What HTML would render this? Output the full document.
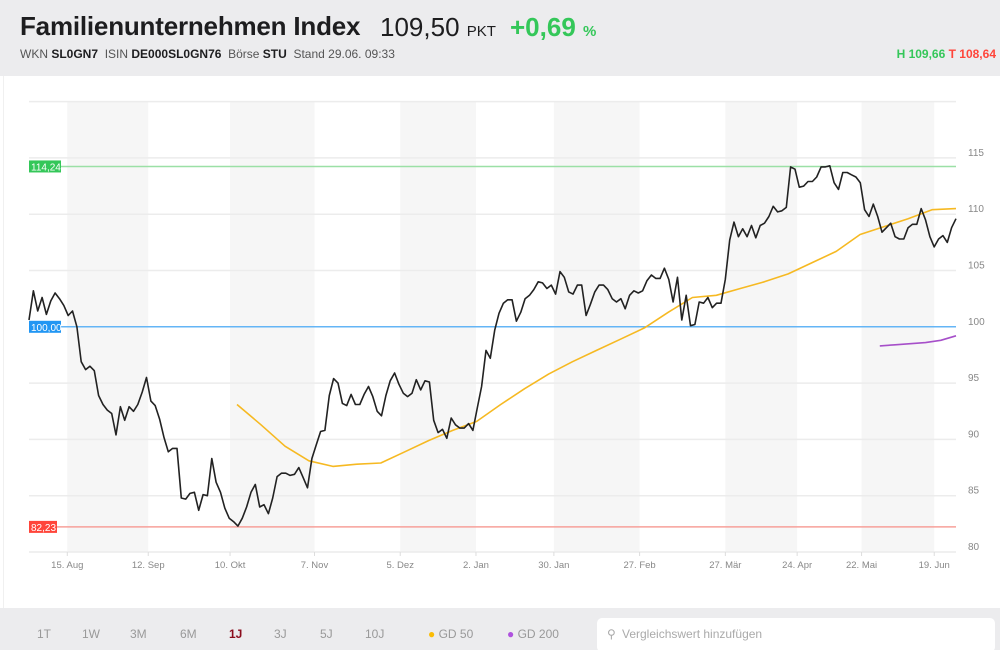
<!DOCTYPE html>
<html><head><meta charset="utf-8">
<style>
body{margin:0;width:1000px;height:650px;overflow:hidden;background:#fff;font-family:"Liberation Sans",sans-serif;}
#hdr{position:absolute;left:0;top:0;width:1000px;height:76px;background:#ececee;}
#title{position:absolute;left:20px;top:11px;font-size:26px;font-weight:bold;color:#1d1d1f;letter-spacing:-0.2px;white-space:nowrap}
#price{position:absolute;left:380px;top:12px;font-size:26px;color:#1d1d1f;white-space:nowrap}
#price small{font-size:15px}
#chg{position:absolute;left:510px;top:12px;font-size:26px;font-weight:bold;color:#34c759;white-space:nowrap}
#chg small{font-size:15px}
#meta{position:absolute;left:20px;top:47px;font-size:12px;color:#555;white-space:nowrap}
#meta b{color:#1d1d1f}
#ht{position:absolute;right:4px;top:47px;font-size:12px;font-weight:bold;white-space:nowrap}
#bar{position:absolute;left:0;top:608px;width:1000px;height:42px;background:#ececee;}
.rng{position:absolute;top:19px;font-size:12px;color:#999}
#search{position:absolute;left:597px;top:10px;width:398px;height:34px;background:#fff;border-radius:5px;font-size:12px;color:#aaa}
</style></head><body>
<div id="hdr">
<div id="title">Familienunternehmen Index</div>
<div id="price">109,50 <small>PKT</small></div>
<div id="chg">+0,69 <small>%</small></div>
<div id="meta">WKN <b>SL0GN7</b> &nbsp;ISIN <b>DE000SL0GN76</b> &nbsp;Börse <b>STU</b> &nbsp;Stand 29.06. 09:33</div>
<div id="ht"><span style="color:#34c759">H 109,66</span> <span style="color:#ff453a">T 108,64</span></div>
</div>
<svg id="chart" width="1000" height="532" style="position:absolute;left:0;top:76px"></svg>
<div id="bar">
<span class="rng" style="left:37px">1T</span>
<span class="rng" style="left:82px">1W</span>
<span class="rng" style="left:130px">3M</span>
<span class="rng" style="left:180px">6M</span>
<span class="rng" style="left:229px;color:#8b0d1d;font-weight:bold">1J</span>
<span class="rng" style="left:274px">3J</span>
<span class="rng" style="left:320px">5J</span>
<span class="rng" style="left:365px">10J</span>
<span class="rng" style="left:428px"><span style="color:#fbbc05">●</span> GD 50</span>
<span class="rng" style="left:507px"><span style="color:#af52de">●</span> GD 200</span>
<div id="search"><span style="position:absolute;left:10px;top:9px">⚲</span><span style="position:absolute;left:25px;top:9px">Vergleichswert hinzufügen</span></div>
</div>
<script>
const prices=[100.6,103.2,101.4,102.6,101.1,102.3,103.0,102.5,101.9,101.0,101.4,100.0,96.9,96.2,96.5,96.1,93.9,93.1,92.6,92.3,90.4,92.9,91.7,92.9,92.5,93.1,94.2,95.5,93.4,93.0,91.8,90.2,88.9,89.2,89.2,84.8,84.7,85.2,85.3,83.7,85.1,85.0,88.3,86.2,85.3,83.9,83.0,82.7,82.3,83.0,84.0,85.3,86.0,84.0,84.2,83.4,84.8,86.7,87.0,87.0,86.8,86.9,87.5,86.6,85.7,88.3,89.5,90.7,90.8,93.9,95.4,95.0,93.2,93.0,94.0,93.1,93.1,94.0,94.7,93.8,92.5,92.1,93.9,95.2,95.9,94.9,94.1,93.8,94.1,95.3,94.4,95.2,95.1,91.7,90.6,90.9,90.1,91.9,91.3,91.0,91.0,91.4,90.8,92.8,94.7,97.9,97.2,99.7,101.2,102.1,102.4,102.4,100.5,101.3,102.5,102.8,103.3,104.0,103.9,103.4,103.7,102.9,104.9,104.4,103.1,102.9,103.7,103.7,101.0,102.0,103.1,103.7,103.7,103.3,102.5,102.2,102.5,101.6,102.8,103.2,103.0,103.2,104.1,104.6,104.3,104.3,105.2,104.2,102.2,104.4,100.6,102.8,100.1,100.2,102.2,102.1,102.6,101.7,102.1,102.1,104.2,107.7,109.3,108.0,108.7,108.0,109.0,107.9,109.0,109.2,109.8,110.7,110.2,110.3,110.6,114.2,114.0,112.4,112.5,112.9,112.9,113.3,114.2,114.2,114.3,112.8,112.2,113.7,113.7,113.5,113.3,112.8,110.4,109.8,110.9,109.8,108.4,108.8,109.2,108.0,107.8,107.8,108.8,109.1,109.1,110.5,109.5,108.0,107.1,107.8,108.1,107.5,108.8,109.6];
const gd50=[93.1,91.3,89.4,88.1,87.6,87.8,87.9,88.9,89.9,90.8,91.6,93.1,94.5,95.8,96.9,97.9,98.9,99.9,101.3,102.6,102.8,103.4,104.0,104.7,105.7,106.7,108.2,108.9,109.6,110.4,110.5];
const gd50StartIdx=47.8;
const gd200=[98.3,98.4,98.5,98.6,98.8,99.2];
const gd200StartIdx=195.5;
const yTicks=[80,85,90,95,100,105,110,115,120];
const dateLabels=["15. Aug","12. Sep","10. Okt","7. Nov","5. Dez","2. Jan","30. Jan","27. Feb","27. Mär","24. Apr","22. Mai","19. Jun"];
const dateIdx=[8.8,27.4,46.2,65.6,85.3,102.7,120.6,140.3,160,176.5,191.3,208];
const refLines=[{v:114.24,c:"#34c759",l:"#9be0a6",t:"114,24"},{v:100,c:"#2196f3",l:"#64b5f6",t:"100,00"},{v:82.23,c:"#ff453a",l:"#f7a09a",t:"82,23"}];
const svg=document.getElementById('chart');const NS="http://www.w3.org/2000/svg";
const OY=76,X0=29,X1=956,N=prices.length;
function x(i){return X0+(X1-X0)*i/(N-1);}
function y(v){return 552-OY-(v-80)*11.26;}
function mk(t,a,p){const e=document.createElementNS(NS,t);for(const k in a)e.setAttribute(k,a[k]);(p||svg).appendChild(e);return e;}
let band=mk('rect',{x:3,y:0,width:1,height:532,fill:'#f0f0f0'});

for(let k=0;k<dateIdx.length;k+=2){const xa=x(dateIdx[k]),xb=k+1<dateIdx.length?x(dateIdx[k+1]):X1;
 const r=mk('rect',{x:xa,y:y(120),width:xb-xa,height:y(80)-y(120),fill:'#f6f6f6'});
 }
yTicks.forEach(v=>{const g=mk('line',{x1:X0,x2:X1,y1:y(v),y2:y(v),stroke:'#ececec','stroke-width':1.5});
 
 if(v<120){const t=mk('text',{x:968,y:y(v)-2,'font-size':10,fill:'#888'});t.textContent=v;
 }});
dateIdx.forEach((d,k)=>{const t=mk('text',{x:x(d),y:y(80)+16,'font-size':9.5,fill:'#888','text-anchor':'middle'});t.textContent=dateLabels[k];
 
 const tk=mk('line',{x1:x(d),x2:x(d),y1:y(80),y2:y(80)+4,stroke:'#ddd'});});
refLines.forEach(r=>{const l=mk('line',{x1:X0,x2:X1,y1:y(r.v),y2:y(r.v),stroke:r.l,'stroke-width':1.5});
 
 const b=mk('rect',{x:X0,y:y(r.v)-6,width:r.t.length>5?32:28,height:12,fill:r.c});
 
 const t=mk('text',{x:X0+2,y:y(r.v)+4,'font-size':10,fill:'#fff'});t.textContent=r.t;
 });
function path(vals,start,step,col,w,name){const d=vals.map((v,i)=>(i?'L':'M')+x(start+i*step).toFixed(1)+','+y(v).toFixed(1)).join('');
 const p=mk('path',{d:d,fill:'none',stroke:col,'stroke-width':w,'stroke-linejoin':'round'});
 }
path(gd50,gd50StartIdx,(N-1-gd50StartIdx)/(gd50.length-1),'#f6b922',1.6,'gd50-line');
path(gd200,gd200StartIdx,(N-1-gd200StartIdx)/(gd200.length-1),'#a64fc9',1.6,'gd200-line');
path(prices,0,1,'#222',1.6,'price-line');
</script>
</body></html>
